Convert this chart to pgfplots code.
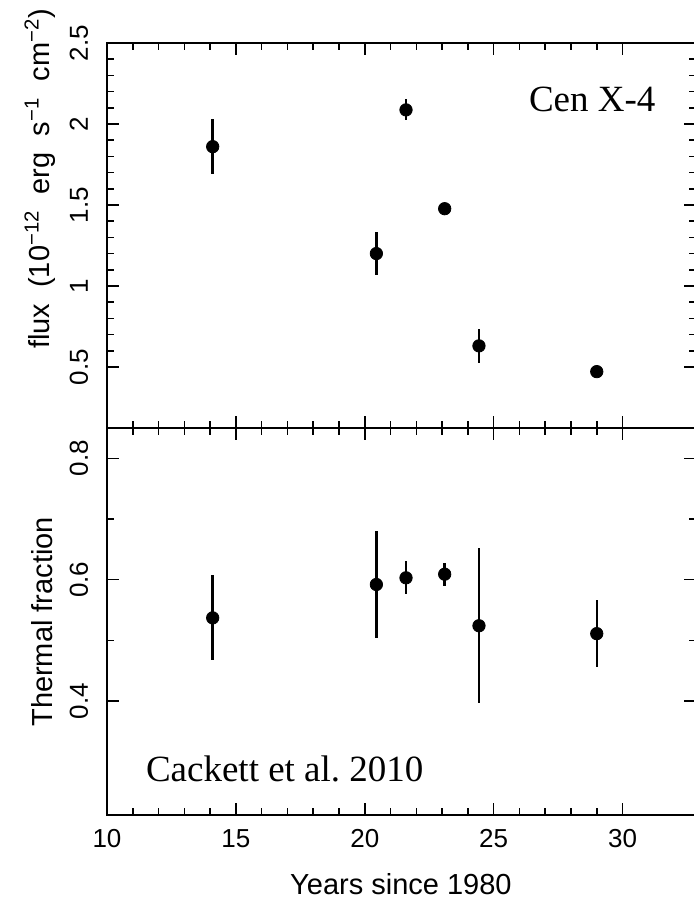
\documentclass[border=0pt]{standalone}
\usepackage{fontspec}
\setmainfont{Liberation Sans}
\newfontfamily\timesfont{Liberation Serif}
\usepackage{pgfplots}
\pgfplotsset{compat=1.18}
\pgfplotstableread{
x y e
14.1 1.86 0.17
20.45 1.20 0.135
21.6 2.087 0.065
23.1 1.477 0.02
24.43 0.63 0.105
29.0 0.471 0.02
}\fluxdata
\pgfplotstableread{
x y e
14.1 0.537 0.07
20.45 0.592 0.088
21.6 0.603 0.027
23.1 0.609 0.019
24.43 0.524 0.128
29.0 0.511 0.055
}\thermdata
\begin{document}
\begin{tikzpicture}[x=1pt,y=1pt]
\pgfplotsset{
  common/.style={
    scale only axis, width=294.5pt,
    xmin=10, xmax=32.85,
    xtick={10,15,...,30}, minor x tick num=4,
    tick align=inside,
    major tick length=6pt, minor tick length=3.5pt,
    axis line style={line width=0.8pt},
    every tick/.style={line width=0.8pt, black},
    tick label style={font=\fontsize{13}{15}\selectfont},
    /pgf/number format/assume math mode=true,
    yticklabel style={rotate=90, anchor=south, yshift=6pt, text height=9.5pt, text depth=0pt},
    xticklabel style={yshift=-3pt, text height=9.5pt, text depth=0pt},
  },
  pts/.style={only marks, mark=*, black, mark size=3.1pt,
    mark options={fill=black, draw=black},
    error bars/.cd, y dir=both, y explicit, error mark=none,
    error bar style={line width=1.2pt, black}},
}
\begin{axis}[common, at={(53.5pt,-21.5pt)}, anchor=north west,
  height=192.5pt, ymin=0.123, ymax=2.5,
  ytick={0.5,1,1.5,2,2.5}, minor y tick num=4,
  xticklabels={},
  ylabel={flux\ \ (10\textsuperscript{−12}\ \ erg\ \ s\textsuperscript{−1}\ \ cm\textsuperscript{−2})},
  every axis y label/.style={at={(rel axis cs:-0.114,0.647)}, rotate=90, anchor=center, font=\fontsize{14.5}{17}\selectfont},
]
\addplot[pts] table[x=x, y=y, y error=e] {\fluxdata};
\node[anchor=base east, font=\timesfont\fontsize{18.5}{22}\selectfont] at (axis cs:31.55,2.074) {Cen X-4};
\end{axis}
\begin{axis}[common, at={(53.5pt,-214pt)}, anchor=north west,
  height=193.5pt, ymin=0.212, ymax=0.85,
  ytick={0.4,0.6,0.8}, minor y tick num=1,
  ylabel={Thermal fraction},
  every axis y label/.style={at={(rel axis cs:-0.110,0.499)}, rotate=90, anchor=center, font=\fontsize{14.5}{17}\selectfont},
  xlabel={Years since 1980},
  every axis x label/.style={at={(rel axis cs:0.499,0)}, yshift=-34.5pt, anchor=center, font=\fontsize{14.5}{17}\selectfont},
]
\addplot[pts] table[x=x, y=y, y error=e] {\thermdata};
\node[anchor=base west, font=\timesfont\fontsize{18.5}{22}\selectfont] at (axis cs:11.24,0.267) {Cackett et al.\ 2010};
\end{axis}
\pgfresetboundingbox
\useasboundingbox (0,0) rectangle (346.5,-452);
\end{tikzpicture}
\end{document}
